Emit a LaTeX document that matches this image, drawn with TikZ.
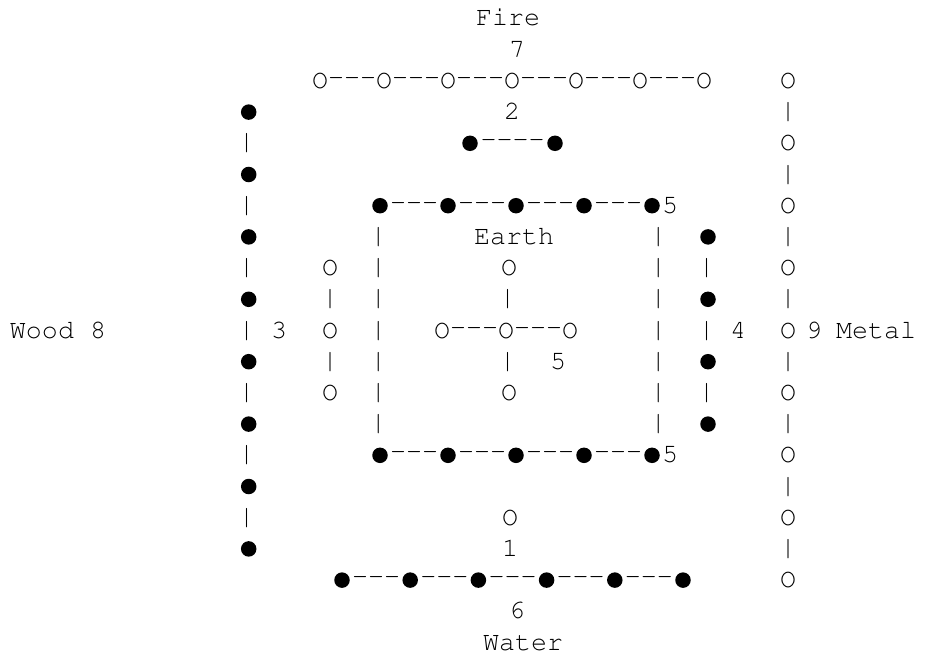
\documentclass[tikz,border=0pt]{standalone}
\usepackage[T1,TU]{fontenc}
\usepackage{graphicx}

% Courier (psnfss pcr) at a 16pt character pitch
\newcommand\monofont{\fontencoding{T1}\fontfamily{pcr}\fontseries{m}\fontshape{n}\fontsize{26.67pt}{31pt}\selectfont}
\newcommand\vbar{\raisebox{1pt}{|}}
\newcommand\dashthree{-{}-{}-}
\newcommand\dashfour{-{}-{}-{}-}

\pgfmathdeclarefunction{rowy}{1}{\pgfmathparse{18.5+31.2*#1}}

\tikzset{
  glyph/.style={inner sep=0pt, font=\monofont, text height=18pt, text depth=3pt},
  link/.style={inner ysep=0pt, inner xsep=-1.5pt, font=\monofont, text height=9pt, text depth=-6pt},
  yin/.style={circle, fill=black, inner sep=0pt, minimum size=15.5pt},
  bar/.style={glyph},
}

\begin{document}
\begin{tikzpicture}[x=1pt,y=-1pt]
\fill[white] (0,0) rectangle (925,655);
\useasboundingbox (0,0) rectangle (925,655);

% ---- Fire: 7 above, 2 below
\node[glyph] (fire) at (508,{rowy(0)}) {Fire};
\node[glyph] (seven) at (517,{rowy(1)}) {7};
\foreach \k in {0,...,6}
  \node[glyph] (T\k) at ({320+64*\k},{rowy(2)}) {O};
\foreach \k [evaluate=\k as \n using int(\k+1)] in {0,...,5}
  \path (T\k.center) -- node[link]{\dashthree} (T\n.center);
\node[glyph] (two) at (512,{rowy(3)}) {2};
\node[yin] (U1) at (470,{rowy(4)}) {};
\node[yin] (U2) at (555,{rowy(4)}) {};
\path (U1.center) -- node[link]{\dashfour} (U2.center);

% ---- Wood: 8 outer, 3 inner
\foreach \i [count=\k] in {3,5,...,17}
  \node[yin] (L\k) at (248.7,{rowy(\i)}) {};
\foreach \k [evaluate=\k as \n using int(\k+1)] in {1,...,7}
  \path (L\k.center) -- node[bar,xshift=-2pt]{\vbar} (L\n.center);
\node[glyph] (wood) at (58,{rowy(10)}) {Wood~8};
\node[glyph] (three) at (279,{rowy(10)}) {3};
\foreach \i [count=\k] in {8,10,12}
  \node[glyph] (A\k) at (330,{rowy(\i)}) {O};
\path (A1.center) -- node[bar]{\vbar} (A2.center);
\path (A2.center) -- node[bar]{\vbar} (A3.center);

% ---- Earth: square of ten, cross of five
\foreach \k in {0,...,4} {
  \node[yin] (Q\k) at ({380+68*\k},{rowy(6)}) {};
  \node[yin] (P\k) at ({380+68*\k},{rowy(14)}) {};
}
\foreach \k [evaluate=\k as \n using int(\k+1)] in {0,...,3} {
  \path (Q\k.center) -- node[link]{\dashthree} (Q\n.center);
  \path (P\k.center) -- node[link]{\dashthree} (P\n.center);
}
\node[glyph] (fiveA) at (670,{rowy(6)}) {5};
\node[glyph] (fiveB) at (670,{rowy(14)}) {5};
\foreach \p in {1,...,7} {
  \path (Q0.center) -- (P0.center) node[bar,pos=\p/8,xshift=-1.7pt]{\vbar};
  \path (Q4.center) -- (P4.center) node[bar,pos=\p/8,xshift=6.3pt]{\vbar};
}
\node[glyph] (earth) at (514,{rowy(7)}) {Earth};
\node[glyph] (C0) at (509,{rowy(8)}) {O};
\node[glyph] (C1) at (442,{rowy(10)}) {O};
\node[glyph] (C2) at (506,{rowy(10)}) {O};
\node[glyph] (C3) at (570,{rowy(10)}) {O};
\node[glyph] (C4) at (509,{rowy(12)}) {O};
\path (C0.center) -- node[bar]{\vbar} (C2.center);
\path (C2.center) -- node[bar]{\vbar} (C4.center);
\path (C1.center) -- node[link]{\dashthree} (C2.center);
\path (C2.center) -- node[link]{\dashthree} (C3.center);
\node[glyph] (fiveC) at (558,{rowy(11)}) {5};

% ---- Metal: 4 inner, 9 outer
\foreach \i [count=\k] in {7,9,11,13}
  \node[yin] (M\k) at (708,{rowy(\i)}) {};
\foreach \k [evaluate=\k as \n using int(\k+1)] in {1,...,3}
  \path (M\k.center) -- node[bar,xshift=-1.3pt]{\vbar} (M\n.center);
\node[glyph] (four) at (738,{rowy(10)}) {4};
\foreach \k in {0,...,8}
  \node[glyph] (R\k) at (788,{rowy(2+2*\k)}) {O};
\foreach \k [evaluate=\k as \n using int(\k+1)] in {0,...,7}
  \path (R\k.center) -- node[bar]{\vbar} (R\n.center);
\node[glyph] (nine) at (814,{rowy(10)}) {9};
\node[glyph] (metal) at (876,{rowy(10)}) {Metal};

% ---- Water: 1 inner, 6 outer
\node[glyph] (B0) at (510,{rowy(16)}) {O};
\node[glyph] (one) at (510,{rowy(17)}) {1};
\foreach \k in {0,...,5}
  \node[yin] (W\k) at ({342+68.2*\k},{rowy(18)}) {};
\foreach \k [evaluate=\k as \n using int(\k+1)] in {0,...,4}
  \path (W\k.center) -- node[link]{\dashthree} (W\n.center);
\node[glyph] (six) at (517,{rowy(19)}) {6};
\node[glyph] (water) at (523,{rowy(20)}) {Water};
\end{tikzpicture}
\end{document}
